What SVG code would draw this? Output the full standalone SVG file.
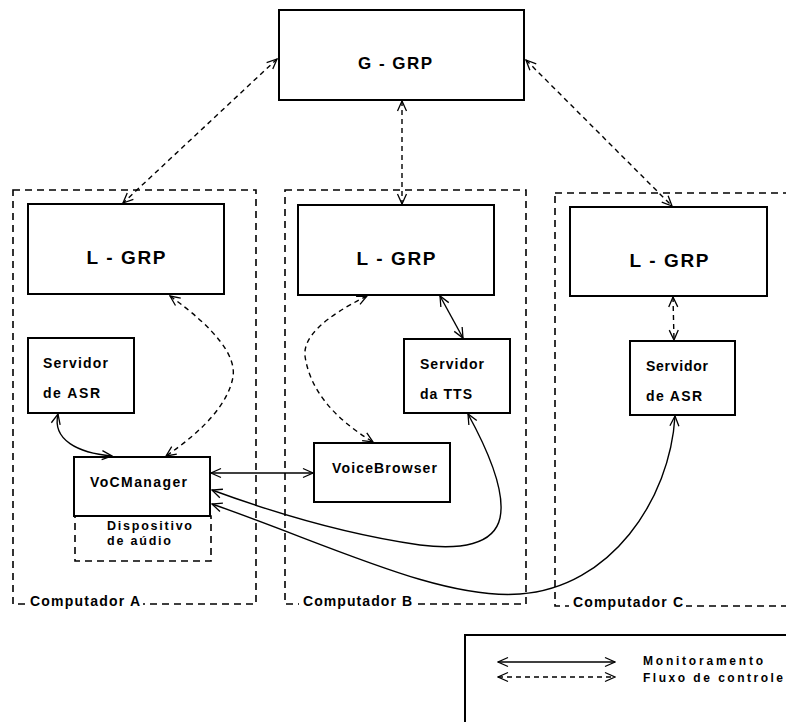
<svg xmlns="http://www.w3.org/2000/svg" width="786" height="722" viewBox="0 0 786 722">
  <style>
    .box { fill: #fff; stroke: #000; stroke-width: 2; }
    .host { fill: none; stroke: #000; stroke-width: 1.6; stroke-dasharray: 7 5; }
    .t { font-family: "Liberation Sans", Arial, sans-serif; font-weight: bold; fill: #000; }
    .big { font-size: 19px; text-anchor: middle; }
    .lbl { font-size: 14px; }
    .mon { fill: none; stroke: #000; stroke-width: 1.4; marker-start: url(#arr); marker-end: url(#arr); }
    .ctl { fill: none; stroke: #000; stroke-width: 1.4; stroke-dasharray: 5 4; marker-start: url(#arr); marker-end: url(#arr); }
  </style>
  <defs>
    <marker id="arr" viewBox="0 0 12 12" refX="11" refY="6" markerWidth="12" markerHeight="12" markerUnits="userSpaceOnUse" orient="auto-start-reverse">
      <path d="M1,1.5 L11,6 L1,10.5" fill="none" stroke="#000" stroke-width="1.3"/>
    </marker>
  </defs>
  <rect width="786" height="722" fill="#fff"/>

  <!-- computer enclosures -->
  <g id="computador-a">
    <rect class="host" x="13" y="190" width="243" height="414"/>
    <rect x="27" y="590" width="116" height="18" fill="#fff"/>
    <text class="t lbl" x="30" y="606" textLength="110">Computador A</text>
  </g>
  <g id="computador-b">
    <rect class="host" x="285" y="190" width="241" height="414"/>
    <rect x="299" y="590" width="116" height="18" fill="#fff"/>
    <text class="t lbl" x="303" y="606" textLength="109">Computador B</text>
  </g>
  <g id="computador-c">
    <rect class="host" x="555" y="193" width="240" height="413"/>
    <rect x="569" y="592" width="117" height="18" fill="#fff"/>
    <text class="t lbl" x="573" y="607" textLength="110">Computador C</text>
  </g>

  <!-- managers -->
  <g id="g-grp">
    <rect class="box" x="279" y="10" width="245" height="90"/>
    <text class="t" x="395" y="69" font-size="17" text-anchor="middle" textLength="74">G - GRP</text>
  </g>
  <g id="l-grp-a">
    <rect class="box" x="28" y="204" width="196" height="90"/>
    <text class="t big" x="126" y="264" textLength="79">L - GRP</text>
  </g>
  <g id="l-grp-b">
    <rect class="box" x="298" y="205" width="196" height="90"/>
    <text class="t big" x="396" y="265" textLength="79">L - GRP</text>
  </g>
  <g id="l-grp-c">
    <rect class="box" x="570" y="207" width="197" height="89"/>
    <text class="t big" x="669" y="267" textLength="79">L - GRP</text>
  </g>

  <!-- servers -->
  <g id="servidor-asr-a">
    <rect class="box" x="28" y="338" width="106" height="75"/>
    <text class="t lbl" x="43" y="368" textLength="65">Servidor</text>
    <text class="t lbl" x="43" y="398" textLength="57">de ASR</text>
  </g>
  <g id="servidor-tts">
    <rect class="box" x="404" y="339" width="106" height="74"/>
    <text class="t lbl" x="420" y="369" textLength="64">Servidor</text>
    <text class="t lbl" x="420" y="399" textLength="52">da TTS</text>
  </g>
  <g id="servidor-asr-c">
    <rect class="box" x="630" y="341" width="105" height="74"/>
    <text class="t lbl" x="646" y="371" textLength="62">Servidor</text>
    <text class="t lbl" x="646" y="401" textLength="56">de ASR</text>
  </g>

  <!-- clients -->
  <g id="vocmanager">
    <rect class="host" x="75" y="516" width="136" height="45"/>
    <rect class="box" x="74" y="457" width="136" height="59"/>
    <text class="t lbl" x="90" y="487" textLength="97">VoCManager</text>
    <text class="t" x="107" y="530" font-size="12.5" textLength="85">Dispositivo</text>
    <text class="t" x="107" y="545" font-size="12.5" textLength="64">de aúdio</text>
  </g>
  <g id="voicebrowser">
    <rect class="box" x="314" y="443" width="136" height="59"/>
    <text class="t lbl" x="332" y="473" textLength="105">VoiceBrowser</text>
  </g>

  <!-- links between components -->
  <g id="connectors">
    <path class="ctl" d="M277,59 L123,203"/>
    <path class="ctl" d="M402,101 L402,204"/>
    <path class="ctl" d="M526,60 L672,206"/>
    <path class="ctl" d="M170,296 Q238,345 233,377 Q226,415 166,456"/>
    <path class="ctl" d="M367,296 Q302,328 305,356 Q312,405 373,442"/>
    <path class="mon" d="M440,296 L463,338"/>
    <path class="ctl" d="M673,297 L674,340"/>
    <path class="mon" d="M58,414 C52,440 78,453 112,456"/>
    <path class="mon" d="M211,473 L313,473"/>
    <path class="mon" d="M468,414 C485,445 506,490 500,518 C494,545 460,550 420,545 C350,535 280,515 212,490"/>
    <path class="mon" d="M675,416 C670,500 610,588 520,594 C440,600 330,545 212,504"/>
  </g>

  <!-- legend -->
  <g id="legenda">
    <rect x="465" y="635" width="330" height="100" fill="none" stroke="#000" stroke-width="2"/>
    <path class="mon" d="M498,662 L615,662"/>
    <path class="ctl" d="M498,677 L615,677"/>
    <text class="t" x="643" y="665" font-size="12" textLength="120">Monitoramento</text>
    <text class="t" x="643" y="682" font-size="12" textLength="140">Fluxo de controle</text>
  </g>
</svg>
